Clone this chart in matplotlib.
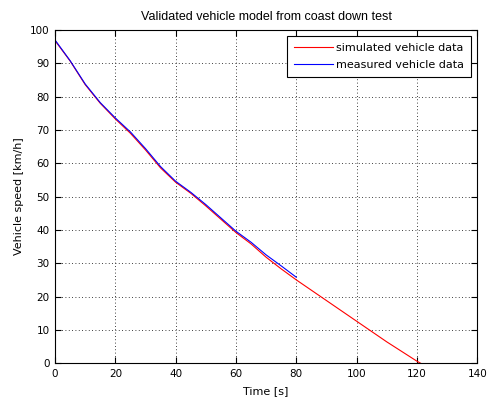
import matplotlib
matplotlib.use("Agg")
import matplotlib.pyplot as plt

# simulated coast down (model output)
sim_time = [0, 5, 10, 15, 20, 25, 30, 35, 40, 45, 50, 55, 60, 65, 70, 75,
            80, 90, 100, 110, 120, 121.2]
sim_speed = [96.8, 90.7, 83.6, 78.0, 73.3, 69.0, 64.0, 58.6, 54.3, 51.0, 47.2,
             43.2, 39.2, 35.8, 31.8, 28.3, 25.0, 18.8, 12.6, 6.4, 0.6, 0.0]

# measured coast down (test data)
meas_time = [0, 5, 10, 15, 20, 25, 30, 35, 40, 45, 50, 55, 60, 65, 70, 75, 80]
meas_speed = [97.0, 90.8, 83.8, 78.2, 73.6, 69.4, 64.4, 59.0, 54.6, 51.3, 47.6,
              43.6, 39.6, 36.3, 32.5, 29.2, 25.8]

plt.rcParams['font.family'] = ['DejaVu Sans']
plt.rcParams['font.size'] = 8

fig = plt.figure(figsize=(4.87, 4.0), dpi=100)
ax = fig.add_axes([0.113, 0.092, 0.867, 0.833])

ax.plot(sim_time, sim_speed, color='#ff0000', lw=0.8, label='simulated vehicle data')
ax.plot(meas_time, meas_speed, color='#0000ff', lw=0.8, label='measured vehicle data')

ax.set_xlim(0, 140)
ax.set_ylim(0, 100)
ax.set_xticks(range(0, 141, 20))
ax.set_yticks(range(0, 101, 10))
ax.tick_params(direction='in', top=True, right=True, length=4.5, width=0.8,
               pad=4, labelsize=7.5)
for s in ax.spines.values():
    s.set_linewidth(0.8)

ax.grid(True, color='black', linestyle=(0, (1, 3)), linewidth=0.6)

ax.set_xlabel('Time [s]', labelpad=5)
ax.set_ylabel('Vehicle speed [km/h]', labelpad=4)
ax.set_title('Validated vehicle model from coast down test', pad=7,
             fontsize=9, fontfamily=['Liberation Sans Narrow', 'Liberation Sans'])

leg = ax.legend(loc='upper right', fancybox=False, edgecolor='black',
                framealpha=1, borderaxespad=0.55, handlelength=3.5,
                handletextpad=0.35, borderpad=0.6, labelspacing=0.65)
leg.get_frame().set_linewidth(0.8)

fig.savefig('out.png', dpi=100, facecolor='white')
